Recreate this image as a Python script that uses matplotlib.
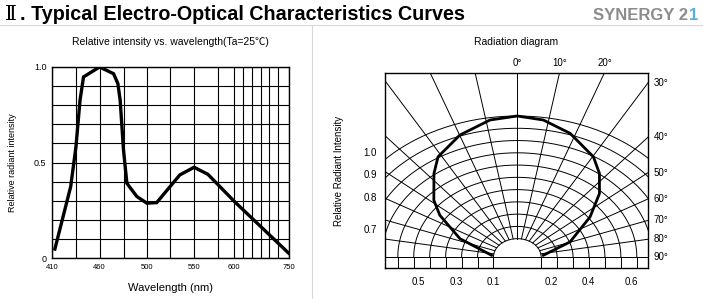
import numpy as np
import matplotlib
matplotlib.use("Agg")
import matplotlib.pyplot as plt

plt.rcParams['font.family'] = ['Liberation Sans', 'DejaVu Sans']

# spectrum
wavelength = [413, 429.5, 435, 439.3, 443, 460, 471.7, 475.3, 477.2, 480, 482.9,
              491.4, 500, 510.4, 534.9, 550, 564.6, 600, 750]
intensity = [0.047, 0.374, 0.583, 0.826, 0.948, 1.0, 0.965, 0.913, 0.826, 0.565,
             0.391, 0.322, 0.287, 0.29, 0.435, 0.475, 0.438, 0.296, 0.026]

# the wavelength axis of the original is not linear
wl_grid = [410, 435, 460, 480, 500, 525, 550, 575, 600, 625, 650, 675, 700, 725, 750]
wl_pos = [51.7, 75.7, 99.3, 123.3, 146.7, 170.3, 194, 217.7, 234.3, 243.3, 252.3,
          260.7, 269.3, 277.7, 288.5]
wl_labels = {410: "410", 460: "460", 500: "500", 550: "550", 600: "600", 750: "750"}

# radiation pattern (angle in degrees, relative intensity)
angle = [-85, -67.4, -55, -48.5, -37.5, -31.3, -19.9, -8.7, 0,
         8.3, 18.2, 30.3, 37.1, 44.9, 54.4, 69.6, 85]
radiant = [0.141, 0.339, 0.516, 0.608, 0.747, 0.832, 0.92, 0.983, 1.0,
           0.982, 0.923, 0.823, 0.743, 0.635, 0.488, 0.307, 0.143]

grid_angles = list(range(-90, 91, 10))
grid_radii = [0.13 + i * 0.087 for i in range(11)]
bottom_labels = ["0.5", "0.3", "0.1", "0.2", "0.4", "0.6"]
bottom_pos = [-0.702, -0.43, -0.17, 0.244, 0.504, 0.811]
left_labels = ["1.0", "0.9", "0.8", "0.7"]
left_pos = [0.747, 0.589, 0.428, 0.199]
angle_labels = [0, 10, 20, 30, 40, 50, 60, 70, 80, 90]

W, H = 703, 299
fig = plt.figure(figsize=(W / 100, H / 100), dpi=100)


def box(x0, y0, x1, y1):
    return [x0 / W, 1 - y1 / H, (x1 - x0) / W, (y1 - y0) / H]


# header
fig.text(5 / W, 1 - 15 / H, "Ⅱ", fontsize=14.5, family=['DejaVu Serif'], va='center', ha='left')
fig.text(20 / W, 1 - 15 / H, ". Typical Electro-Optical Characteristics Curves",
         fontsize=14.2, fontweight='bold', va='center', ha='left')
# logo: grey text with the last digit in blue
fig.text(688 / W, 1 - 15 / H, "SYNERGY 2", fontsize=12, fontweight='bold', color='#8c8c8c',
         va='center', ha='right')
fig.text(688.5 / W, 1 - 15 / H, "1", fontsize=12, fontweight='bold', color='#5aaedc',
         va='center', ha='left')
fig.add_artist(plt.Line2D([0, 1], [1 - 25 / H, 1 - 25 / H], color='#d8d8d8', lw=0.8))
fig.add_artist(plt.Line2D([311.7 / W, 311.7 / W], [0, 1 - 25 / H], color='#d8d8d8', lw=0.8))

# ---- left: spectrum
pos_scale = lambda x: np.interp(x, wl_grid, wl_pos)
inv_scale = lambda p: np.interp(p, wl_pos, wl_grid)

ax = fig.add_axes(box(52, 67, 288.5, 258))
ax.set_xscale('function', functions=(pos_scale, inv_scale))
ax.plot(wavelength, intensity, color='black', lw=2.4, solid_joinstyle='miter', zorder=3)
ax.set_xlim(410, 750)
ax.set_ylim(0, 1.0)
ax.set_xticks(wl_grid)
ax.set_xticklabels([wl_labels.get(w, "") for w in wl_grid], fontsize=5.5)
yt = np.arange(0, 1.01, 0.1)
ax.set_yticks(yt)
ax.set_yticklabels(["0" if abs(v) < 1e-9 else ("0.5" if abs(v - 0.5) < 1e-9 else
                    ("1.0" if abs(v - 1) < 1e-9 else "")) for v in yt], fontsize=6.5)
ax.tick_params(length=0, pad=4)
ax.grid(True, color='black', lw=0.8)
for s in ax.spines.values():
    s.set_linewidth(1.0)
ax.set_xlabel("Wavelength (nm)", fontsize=8, labelpad=9)
ax.set_ylabel("Relative radiant intensity", fontsize=6.5, labelpad=12)
ax.set_title("Relative intensity vs. wavelength(Ta=25℃)", fontsize=7.5, pad=16,
             family=['Liberation Sans', 'Noto Sans CJK SC', 'DejaVu Sans'])

# ---- right: radiation diagram
K = 1.3
ax2 = fig.add_axes(box(385, 72.7, 648, 268.3))
xl = (-132.3 / 141, 130.7 / 141)
yl = (-11.3 / 141, 184.3 / 141)
ax2.set_xlim(*xl)
ax2.set_ylim(*yl)

th = np.radians(np.linspace(-90, 90, 200))
for r in grid_radii:
    ax2.plot(K * r * np.sin(th), r * np.cos(th), color='black', lw=0.7)
    for sgn in (-1, 1):
        ax2.plot([sgn * K * r, sgn * K * r], [0, yl[0]], color='black', lw=0.7)
for a in grid_angles:
    t = np.radians(a)
    ax2.plot([K * 0.13 * np.sin(t), K * 3 * np.sin(t)], [0.13 * np.cos(t), 3 * np.cos(t)],
             color='black', lw=0.7)
ax2.axhline(0, color='black', lw=0.7)

ta = np.radians(angle)
ra = np.array(radiant)
ax2.plot(K * ra * np.sin(ta), ra * np.cos(ta), color='black', lw=2.0, zorder=3)

ax2.set_xticks(bottom_pos)
ax2.set_xticklabels(bottom_labels, fontsize=7)
ax2.set_yticks(left_pos)
ax2.set_yticklabels(left_labels, fontsize=7)
ax2.tick_params(length=0, pad=6)
ax2.set_ylabel("Relative Radiant Intensity", fontsize=7, labelpad=14)
for s in ax2.spines.values():
    s.set_linewidth(1.0)
ax2.set_title("Radiation diagram", fontsize=7.5, pad=20)

# angle labels where the spokes leave the box
for a in angle_labels:
    t = np.radians(a)
    sx, cy = K * np.sin(t), np.cos(t)
    if a < 30:
        x = yl[1] / cy * sx
        ax2.text(x, yl[1] + 0.03, f"{a}°", fontsize=7, ha='center', va='bottom')
    else:
        y = xl[1] / sx * cy if sx > 0 else 0
        ax2.text(xl[1] + 0.04, y, f"{a}°", fontsize=7, ha='left', va='center')

fig.savefig("out.png", dpi=100)
